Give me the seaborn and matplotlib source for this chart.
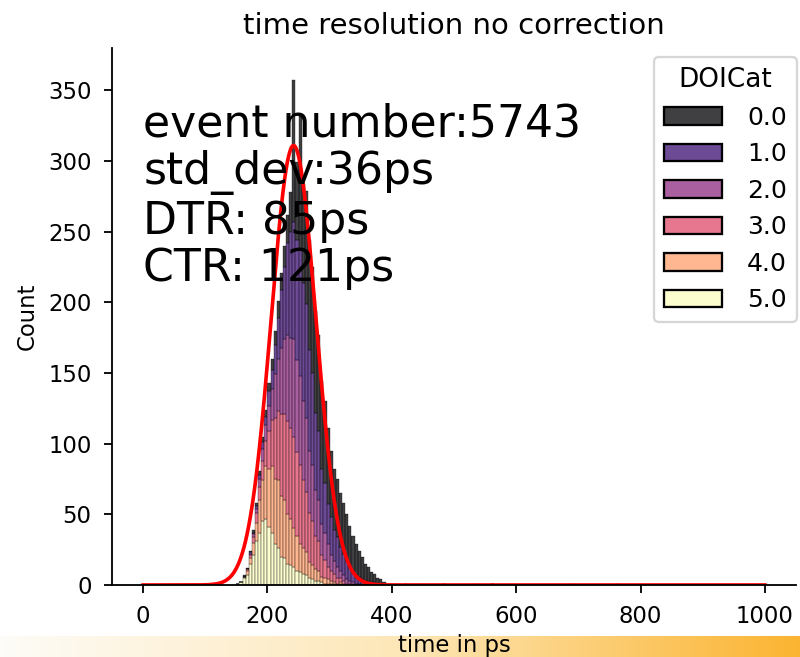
import numpy as np
import pandas as pd
import matplotlib
matplotlib.use("Agg")
import matplotlib.pyplot as plt
from matplotlib.colors import LinearSegmentedColormap
import seaborn as sns

# ---------------- data ----------------
bin_width = 5
bin_left = np.arange(150, 390, bin_width)          # 48 bins, 150 .. 385 ps
doi_levels = [0.0, 1.0, 2.0, 3.0, 4.0, 5.0]

counts_cat0 = [0, 0, 1, 1, 1, 2, 2, 3, 4, 5,
               6, 8, 10, 12, 12, 15, 20, 28, 100, 55,
               95, 70, 80, 78, 75, 72, 68, 62, 58, 54,
               47, 43, 41, 38, 36, 33, 30, 25, 22, 18,
               16, 12, 10, 7, 6, 4, 3, 2]
counts_cat1 = [0, 0, 0, 0, 1, 1, 2, 3, 5, 6,
               10, 13, 21, 29, 41, 51, 65, 75, 83, 85,
               89, 84, 81, 71, 65, 55, 49, 39, 35, 28,
               27, 22, 21, 17, 15, 13, 9, 8, 6, 5,
               4, 3, 3, 2, 2, 1, 1, 0]
counts_cat2 = [0, 0, 0, 0, 1, 2, 3, 6, 8, 11,
               18, 22, 31, 37, 47, 53, 61, 64, 69, 65,
               63, 56, 52, 44, 40, 32, 29, 22, 19, 16,
               11, 9, 8, 5, 4, 3, 2, 1, 1, 1,
               0, 0, 0, 0, 0, 0, 0, 0]
counts_cat3 = [0, 0, 0, 1, 2, 4, 7, 9, 14, 18,
               27, 33, 43, 49, 58, 61, 66, 64, 65, 59,
               56, 48, 43, 35, 31, 24, 21, 15, 13, 9,
               7, 6, 4, 3, 2, 1, 1, 1, 0, 0,
               0, 0, 0, 0, 0, 0, 0, 0]
counts_cat4 = [0, 0, 1, 3, 4, 9, 13, 23, 29, 37,
               41, 47, 46, 48, 43, 41, 35, 33, 27, 25,
               20, 18, 16, 11, 10, 8, 7, 4, 4, 3,
               2, 1, 1, 1, 1, 0, 0, 0, 0, 0,
               0, 0, 0, 0, 0, 0, 0, 0]
counts_cat5 = [1, 2, 5, 7, 15, 21, 31, 37, 45, 47,
               41, 37, 29, 26, 20, 19, 15, 14, 13, 10,
               9, 8, 7, 5, 4, 3, 3, 2, 1, 1,
               1, 1, 0, 1, 0, 0, 0, 0, 0, 0,
               0, 0, 0, 0, 0, 0, 0, 0]

# sparse late events (one count each)
outlier_times = [407.5, 422.5, 447.5, 482.5, 532.5, 562.5, 687.5, 762.5]
outlier_cats = [0.0, 1.0, 0.0, 2.0, 0.0, 3.0, 0.0, 0.0]

# gaussian fit shown in red
fit_amplitude = 311.0
fit_mean = 242.0
fit_sigma = 36.0
fit_range = (0, 1000)

title = "time resolution no correction"
annotation = "event number:5743\nstd_dev:36ps\nDTR: 85ps\nCTR: 121ps"

# ---------------- build long-form table ----------------
all_counts = [counts_cat0, counts_cat1, counts_cat2,
              counts_cat3, counts_cat4, counts_cat5]
rows = []
for lvl, cnts in zip(doi_levels, all_counts):
    for left, c in zip(bin_left, cnts):
        rows.append((left + bin_width / 2, lvl, c))
for t, lvl in zip(outlier_times, outlier_cats):
    rows.append((t, lvl, 1))
df = pd.DataFrame(rows, columns=["time", "DOICat", "count"])

fit_x = np.linspace(fit_range[0], fit_range[1], 2000)
fit_y = fit_amplitude * np.exp(-0.5 * ((fit_x - fit_mean) / fit_sigma) ** 2)

# ---------------- plot ----------------
plt.rcParams["font.family"] = ["DejaVu Sans"]
DPI = 164
fig = plt.figure(figsize=(800 / DPI, 657 / DPI), dpi=DPI)
ax = fig.add_axes([0.14, 0.1096, 0.855, 0.8174])
ax.set_xlim(-50, 1050)
ax.set_ylim(0, 380)

sns.histplot(data=df, x="time", hue="DOICat", weights="count",
             multiple="stack", palette="magma", binwidth=bin_width,
             binrange=(150, 765), ax=ax)
sns.lineplot(x=fit_x, y=fit_y, color="red", linewidth=1.6, ax=ax)

ax.set_xlim(-50, 1050)
ax.set_ylim(0, 380)
sns.despine(ax=ax)
ax.tick_params(axis="both", pad=5.5)

ax.set_title(title, fontsize=12.8)
ax.set_xlabel("time in ps", labelpad=2.5)
ax.set_ylabel("Count")
ax.text(0, 215, annotation, fontsize=19.4, va="baseline", ha="left",
        linespacing=1.13)

sns.move_legend(ax, "upper right", bbox_to_anchor=(1.0015, 0.9832),
                borderaxespad=0, fontsize=11, title_fontsize=11.5,
                handlelength=2.3, handletextpad=1.0)

# orange gradient band at the bottom of the picture
band = fig.add_axes([0, 0, 1, 21 / 657])
band.set_zorder(-1)
cmap = LinearSegmentedColormap.from_list("band", ["#fefcf8", "#fde7b8", "#fbb431"])
band.imshow(np.linspace(0, 1, 256)[None, :], aspect="auto", cmap=cmap,
            extent=(0, 1, 0, 1))
band.axis("off")

fig.savefig("out.png", dpi=DPI)
